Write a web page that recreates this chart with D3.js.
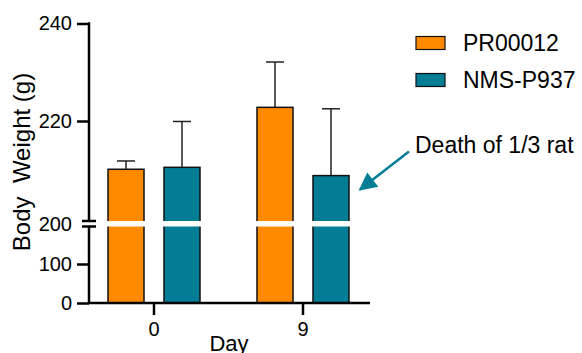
<!DOCTYPE html>
<html>
<head>
<meta charset="utf-8">
<script src="https://cdn.jsdelivr.net/npm/d3@7"></script>
<style>
  body { margin: 0; background: #fff; }
  text { font-family: "Liberation Sans", Arial, sans-serif; fill: #000; }
</style>
</head>
<body>
<svg></svg>
<script>
let width = 582;
let height = 353;

// data
let days = ["0", "9"];
let groups = ["PR00012", "NMS-P937"];
let colours = ["#ff8a00", "#027d95"];
let meanPR = [210.1, 222.8];
let sdPR = [1.7, 9.3];
let meanNMS = [210.5, 208.8];
let sdNMS = [9.4, 13.7];
let upperTicks = [200, 220, 240];
let lowerTicks = [0, 100];

let rows = [];
days.forEach((d, i) => {
  rows.push({day: d, group: groups[0], mean: meanPR[i], sd: sdPR[i]});
  rows.push({day: d, group: groups[1], mean: meanNMS[i], sd: sdNMS[i]});
});

let svg = d3.select("svg")
  .attr("width", width)
  .attr("height", height);

// broken y axis: two segments
let yUpper = d3.scaleLinear().domain([200, 240]).range([218.5, 23.5]);
let yLower = d3.scaleLinear().domain([0, 200]).range([303, 225]);
let breakTop = 221, breakBottom = 226.5;
function yPos(v) { return v >= 200 ? yUpper(v) : yLower(v); }

let x = d3.scaleBand().domain(days).range([79.5, 377.5]);
let xInner = d3.scaleBand().domain(groups).range([-46, 46]).paddingInner(0.357);
let axisX = 89, axisEnd = 370;

// bars
svg.selectAll(".bar")
  .data(rows)
  .enter()
  .append("rect")
    .attr("class", "bar")
    .attr("x", d => x(d.day) + x.bandwidth() / 2 + xInner(d.group))
    .attr("y", d => yPos(d.mean))
    .attr("width", xInner.bandwidth())
    .attr("height", d => yLower(0) - yPos(d.mean))
    .style("fill", d => colours[groups.indexOf(d.group)])
    .style("stroke", "#111")
    .style("stroke-width", 1.5);

// error bars (upper only)
let err = svg.selectAll(".err")
  .data(rows)
  .enter()
  .append("g")
    .attr("class", "err")
    .attr("transform", d => "translate(" + (x(d.day) + x.bandwidth() / 2 + xInner(d.group) + xInner.bandwidth() / 2) + ",0)");

err.append("line")
  .attr("x1", 0).attr("x2", 0)
  .attr("y1", d => yPos(d.mean))
  .attr("y2", d => yPos(d.mean + d.sd))
  .style("stroke", "#222").style("stroke-width", 1.5);

err.append("line")
  .attr("x1", -xInner.bandwidth() / 4).attr("x2", xInner.bandwidth() / 4)
  .attr("y1", d => yPos(d.mean + d.sd))
  .attr("y2", d => yPos(d.mean + d.sd))
  .style("stroke", "#222").style("stroke-width", 1.5);

// gap across the plot for the axis break
svg.append("rect")
  .attr("x", axisX + 2)
  .attr("y", breakTop)
  .attr("width", axisEnd - axisX)
  .attr("height", breakBottom - breakTop)
  .style("fill", "#fff");

// y axis, upper segment
let gUp = svg.append("g")
  .attr("transform", "translate(" + axisX + ",0)")
  .call(d3.axisLeft(yUpper).tickValues(upperTicks.slice(1)).tickSize(12).tickPadding(5).tickSizeOuter(0));
gUp.select(".domain").remove();
gUp.append("line")
  .attr("y1", yUpper(240) - 1.2).attr("y2", breakTop)
  .style("stroke", "#000").style("stroke-width", 2.5);

// y axis, lower segment
let gLo = svg.append("g")
  .attr("transform", "translate(" + axisX + ",0)")
  .call(d3.axisLeft(yLower).tickValues(lowerTicks).tickSize(12).tickPadding(5).tickSizeOuter(0));
gLo.select(".domain").remove();
gLo.append("line")
  .attr("y1", breakBottom).attr("y2", yLower(0))
  .style("stroke", "#000").style("stroke-width", 2.5);

// break marks and the 200 label
[breakTop, breakBottom].forEach(yy => {
  svg.append("line")
    .attr("x1", axisX - 7).attr("x2", axisX + 7)
    .attr("y1", yy).attr("y2", yy)
    .style("stroke", "#000").style("stroke-width", 2.5);
});
svg.append("text")
  .attr("x", axisX - 17)
  .attr("y", (breakTop + breakBottom) / 2)
  .attr("dy", "0.35em")
  .style("text-anchor", "end")
  .style("font-size", "20px")
  .text(upperTicks[0]);

[gUp, gLo].forEach(g => {
  g.selectAll(".tick line").style("stroke", "#000").style("stroke-width", 2.5);
  g.selectAll(".tick text").style("font-size", "20px").style("fill", "#000")
    .attr("font-family", null);
});

// x axis
let gx = svg.append("g")
  .attr("transform", "translate(0," + yLower(0) + ")")
  .call(d3.axisBottom(x).tickSize(12).tickPadding(7).tickSizeOuter(0));
gx.select(".domain").remove();
gx.append("line")
  .attr("x1", axisX - 1.2).attr("x2", axisEnd)
  .style("stroke", "#000").style("stroke-width", 2.5);
gx.selectAll(".tick line").style("stroke", "#000").style("stroke-width", 2.5);
gx.selectAll(".tick text").style("font-size", "20px").style("fill", "#000")
  .attr("font-family", null);

// axis titles
svg.append("text")
  .attr("x", 229)
  .attr("y", 351)
  .style("text-anchor", "middle")
  .style("font-size", "22px")
  .text("Day");

svg.append("text")
  .attr("transform", "translate(30,162) rotate(-90)")
  .style("text-anchor", "middle")
  .style("font-size", "24px")
  .style("white-space", "pre")
  .text("Body  Weight (g)");

// legend
let legend = svg.selectAll(".legend")
  .data(groups)
  .enter().append("g")
  .attr("class", "legend")
  .attr("transform", (d, i) => "translate(416," + (36.5 + i * 37) + ")");

legend.append("rect")
  .attr("width", 29)
  .attr("height", 13)
  .style("fill", (d, i) => colours[i])
  .style("stroke", "#111")
  .style("stroke-width", 1.2);

legend.append("text")
  .attr("x", 47)
  .attr("y", 14)
  .style("font-size", "23px")
  .text(d => d);

// annotation arrow pointing at the NMS-P937 day 9 bar
let target = rows[3];
let tipX = x(target.day) + x.bandwidth() / 2 + xInner(target.group) + xInner.bandwidth() + 11;
let tipY = yPos(target.mean) + 14;

svg.append("defs").append("marker")
  .attr("id", "head")
  .attr("viewBox", "0 0 10 10")
  .attr("refX", 9).attr("refY", 5)
  .attr("markerUnits", "userSpaceOnUse")
  .attr("markerWidth", 20).attr("markerHeight", 18)
  .attr("orient", "auto")
  .append("path")
    .attr("d", "M0,0 L10,5 L0,10 z")
    .style("fill", colours[1]);

svg.append("line")
  .attr("x1", 409).attr("y1", 151.5)
  .attr("x2", tipX).attr("y2", tipY)
  .style("stroke", colours[1])
  .style("stroke-width", 2.5)
  .attr("marker-end", "url(#head)");

svg.append("text")
  .attr("x", 415)
  .attr("y", 153)
  .style("font-size", "23px")
  .text("Death of 1/3 rat");
</script>
</body>
</html>
